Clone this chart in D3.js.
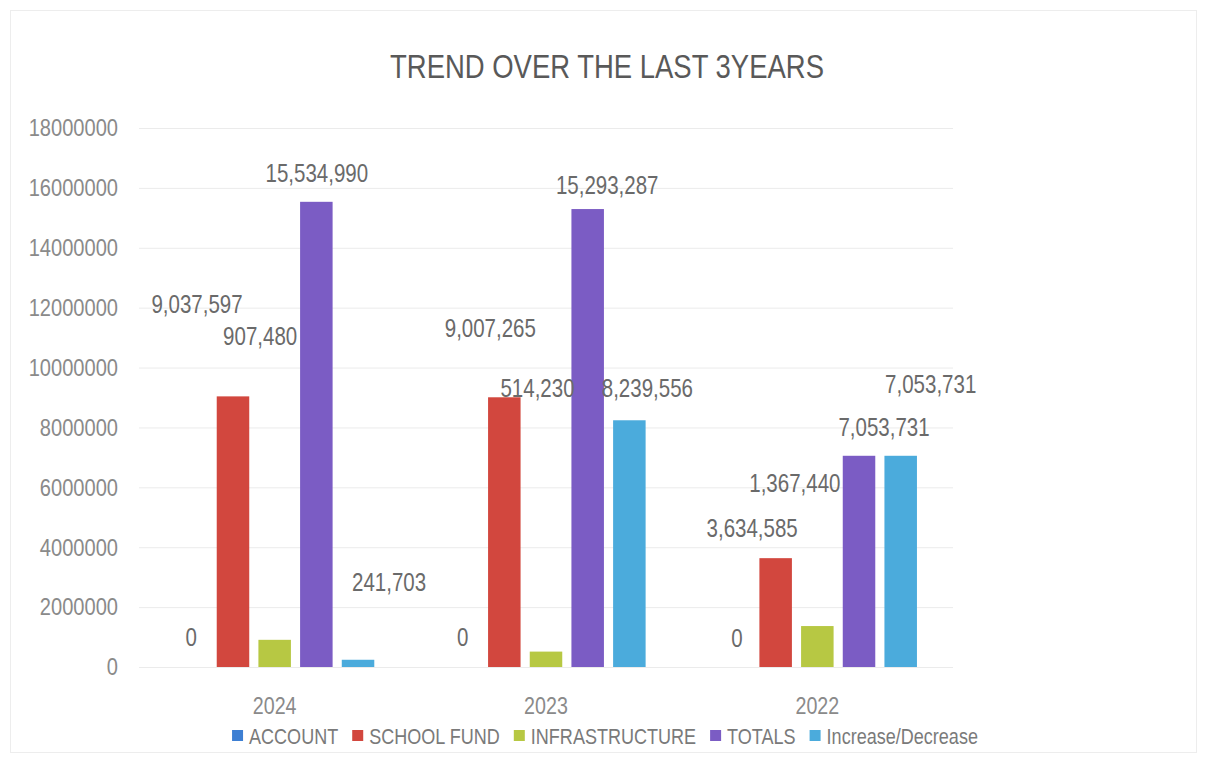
<!DOCTYPE html>
<html>
<head>
<meta charset="utf-8">
<script src="https://cdn.jsdelivr.net/npm/d3@7"></script>
<style>
  html, body { margin: 0; padding: 0; background: #ffffff; }
  svg { display: block; font-family: "Liberation Sans", Arial, sans-serif; }
</style>
</head>
<body>
<svg id="chart" width="1206" height="760"></svg>
<script>
// ---- data ----
const title = "TREND OVER THE LAST 3YEARS";
const years = ["2024", "2023", "2022"];
const seriesNames = ["ACCOUNT", "SCHOOL FUND", "INFRASTRUCTURE", "TOTALS", "Increase/Decrease"];
const account = [0, 0, 0];
const schoolFund = [9037597, 9007265, 3634585];
const infrastructure = [907480, 514230, 1367440];
const totals = [15534990, 15293287, 7053731];
const increaseDecrease = [241703, 8239556, 7053731];
const yTicks = [0, 2000000, 4000000, 6000000, 8000000, 10000000, 12000000, 14000000, 16000000, 18000000];

// ---- styling (kept apart from the data) ----
const colors = ["#3d7fd3", "#d2473e", "#b7c843", "#7b5cc4", "#4babdc"];
const NARROW = 0.82; // horizontal squeeze to mimic a narrow face
// hand-placed data label nudges (px, relative to bar top centre), per year then per series
const labelNudge = [
  [[0, -30], [-36, -92], [-14.5, -304], [0.5, -29], [31, -78]],
  [[0, -30], [-14, -69], [-8.5, -264], [19.5, -24], [18, -32]],
  [[3, -29], [-23.5, -30], [-22.5, -143], [25, -29], [30, -72]]
];

const seriesValues = [account, schoolFund, infrastructure, totals, increaseDecrease];
const rows = years.map((y, i) => ({
  year: y, idx: i,
  values: seriesNames.map((s, j) => ({ series: s, sIdx: j, value: seriesValues[j][i] }))
}));

const svg = d3.select("#chart");
const W = 1206, H = 760;

// faint frame
svg.append("rect").attr("x", 10.5).attr("y", 10.5).attr("width", W - 20).attr("height", H - 18)
  .attr("fill", "none").attr("stroke", "#ededed").attr("stroke-width", 1);

const plotLeft = 139, plotRight = 953, plotTop = 128, plotBottom = 667;

const x0 = d3.scaleBand().domain(years).range([plotLeft, plotRight]).paddingInner(0).paddingOuter(0);
const x1 = d3.scaleBand().domain(seriesNames).range([0, x0.bandwidth()]).paddingInner(0.22).paddingOuter(0.865);
const y = d3.scaleLinear().domain([0, 18000000]).range([plotBottom, plotTop]);
const color = d3.scaleOrdinal().domain(seriesNames).range(colors);

// title
svg.append("text").attr("transform", `translate(607,78) scale(${NARROW},1)`)
  .attr("text-anchor", "middle")
  .attr("font-size", 33.5).attr("fill", "#595959").text(title);

// y axis with gridlines
const yPad = 21;
const yAxis = d3.axisLeft(y).tickValues(yTicks).tickFormat(d3.format("d"))
  .tickSize(-(plotRight - plotLeft)).tickPadding(yPad / NARROW);
const gy = svg.append("g").attr("transform", `translate(${plotLeft},0)`).call(yAxis);
gy.select(".domain").remove();
gy.selectAll(".tick line").attr("stroke", "#ebebeb").attr("stroke-width", 1);
gy.selectAll(".tick text").attr("font-size", 24.5).attr("fill", "#8a8a8a")
  .attr("transform", `scale(${NARROW},1)`);

// x axis labels
const xAxis = d3.axisBottom(x0).tickSize(0).tickPadding(30);
const gx = svg.append("g").attr("transform", `translate(0,${plotBottom})`).call(xAxis);
gx.select(".domain").remove();
gx.selectAll(".tick text").attr("font-size", 24).attr("fill", "#8a8a8a")
  .attr("transform", `scale(${NARROW},1)`);

// bars
const groups = svg.append("g").selectAll("g").data(rows).join("g")
  .attr("transform", d => `translate(${x0(d.year)},0)`);

groups.selectAll("rect").data(d => d.values).join("rect")
  .attr("x", d => x1(d.series))
  .attr("y", d => y(d.value))
  .attr("width", x1.bandwidth())
  .attr("height", d => y(0) - y(d.value))
  .attr("fill", d => color(d.series));

// data labels
const fmt = d3.format(",");
groups.each(function(row) {
  d3.select(this).selectAll("text.lbl").data(row.values).join("text")
    .attr("class", "lbl")
    .attr("transform", d => {
      const lx = x1(d.series) + x1.bandwidth() / 2 + labelNudge[row.idx][d.sIdx][0];
      const ly = y(d.value) + labelNudge[row.idx][d.sIdx][1];
      return `translate(${lx},${ly}) scale(${NARROW},1)`;
    })
    .attr("dy", "0.36em")
    .attr("text-anchor", "middle")
    .attr("font-size", 25)
    .attr("fill", "#6a6a6a")
    .text(d => fmt(d.value));
});

// legend
const legend = svg.append("g");
const items = legend.selectAll("g").data(seriesNames).join("g");
items.append("rect").attr("width", 11).attr("height", 11).attr("y", -6)
  .attr("fill", d => color(d));
items.append("text").attr("transform", `translate(17,0) scale(${NARROW},1)`)
  .attr("dy", "0.36em").attr("font-size", 22)
  .attr("fill", "#7a7a7a").text(d => d);
let cx = 0;
const gap = 14;
items.each(function() {
  const w = 17 + this.querySelector("text").getComputedTextLength() * NARROW;
  d3.select(this).attr("transform", `translate(${cx},0)`);
  cx += w + gap;
});
const total = cx - gap;
legend.attr("transform", `translate(${605 - total / 2},736)`);
</script>
</body>
</html>
